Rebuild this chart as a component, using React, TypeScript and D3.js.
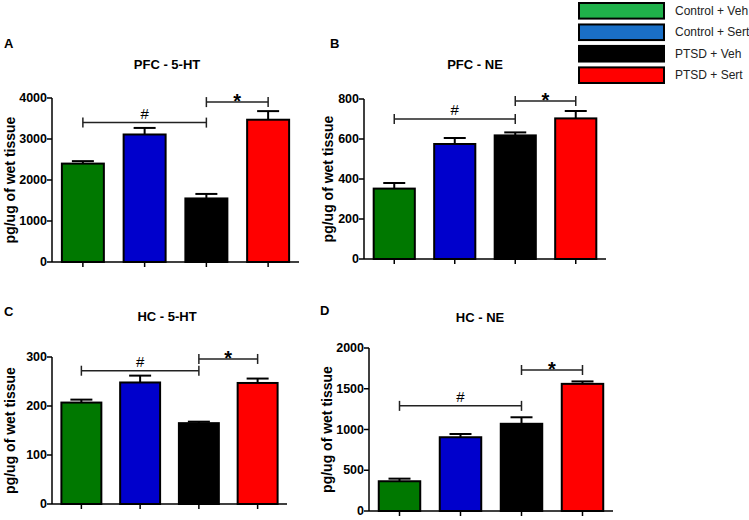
import React from "react";
import * as d3 from "d3";

const groups = ["Control + Veh", "Control + Sert", "PTSD + Veh", "PTSD + Sert"];
const barColors = ["#007800", "#0000cc", "#000000", "#ff0000"];
const legendColors = ["#1fb04a", "#1a6fc6", "#000000", "#ff0000"];

const pfc5htMeans = [2400, 3110, 1550, 3470];
const pfc5htErr = [60, 160, 110, 210];
const pfc5htTicks = [0, 1000, 2000, 3000, 4000];

const pfcNeMeans = [352, 575, 618, 703];
const pfcNeErr = [28, 30, 15, 37];
const pfcNeTicks = [0, 200, 400, 600, 800];

const hc5htMeans = [207, 248, 165, 247];
const hc5htErr = [6, 14, 3, 9];
const hc5htTicks = [0, 100, 200, 300];

const hcNeMeans = [365, 905, 1070, 1560];
const hcNeErr = [32, 40, 80, 30];
const hcNeTicks = [0, 500, 1000, 1500, 2000];

// significance brackets: [from, to, level, symbol]
const pfc5htSig: [number, number, number, string][] = [[0, 2, 3400, "#"], [2, 3, 3900, "*"]];
const pfcNeSig: [number, number, number, string][] = [[0, 2, 700, "#"], [2, 3, 790, "*"]];
const hc5htSig: [number, number, number, string][] = [[0, 2, 272, "#"], [2, 3, 296, "*"]];
const hcNeSig: [number, number, number, string][] = [[0, 2, 1290, "#"], [2, 3, 1730, "*"]];

const yLabel = "pg/ug of wet tissue";
const FONT = "'Liberation Sans', Arial, Helvetica, sans-serif";

type PanelProps = {
  letter: string;
  title: string;
  means: number[];
  errs: number[];
  ticks: number[];
  sig: [number, number, number, string][];
  x0: number;
  x1: number;
  yTop: number;
  yBottom: number;
  letterX: number;
  letterY: number;
  titleX: number;
  titleY: number;
  labelX: number;
};

function Panel(p: PanelProps) {
  const x = d3.scaleBand<string>().domain(groups).range([p.x0, p.x1]).paddingInner(0.32).paddingOuter(0.16);
  const y = d3.scaleLinear().domain([0, p.ticks[p.ticks.length - 1]]).range([p.yBottom, p.yTop]);
  const bw = x.bandwidth();
  const cx = (i: number) => (x(groups[i]) as number) + bw / 2;
  return (
    <g>
      <text x={p.letterX} y={p.letterY} fontSize={13} fontWeight="bold" fontFamily={FONT}>{p.letter}</text>
      <text x={p.titleX} y={p.titleY} fontSize={13} fontWeight="bold" fontFamily={FONT} textAnchor="middle">{p.title}</text>
      <text
        transform={`translate(${p.labelX},${(p.yTop + p.yBottom) / 2}) rotate(-90)`}
        fontSize={14}
        fontWeight="bold"
        fontFamily={FONT}
        textAnchor="middle"
        dominantBaseline="central"
      >
        {yLabel}
      </text>
      {/* bars */}
      {p.means.map((m, i) => {
        const xx = x(groups[i]) as number;
        const top = y(m);
        const etop = y(m + p.errs[i]);
        return (
          <g key={i}>
            <line x1={cx(i)} x2={cx(i)} y1={top} y2={etop} stroke="#000" strokeWidth={2} />
            <line x1={cx(i) - 11} x2={cx(i) + 11} y1={etop} y2={etop} stroke="#000" strokeWidth={2} />
            <rect x={xx} y={top} width={bw} height={p.yBottom - top} fill={barColors[i]} stroke="#000" strokeWidth={2} />
          </g>
        );
      })}
      {/* y axis */}
      <line x1={p.x0} x2={p.x0} y1={p.yTop} y2={p.yBottom} stroke="#000" strokeWidth={1.5} />
      {p.ticks.map((t) => (
        <g key={t}>
          <line x1={p.x0 - 5} x2={p.x0} y1={y(t)} y2={y(t)} stroke="#000" strokeWidth={1.5} />
          <text x={p.x0 - 5} y={y(t)} fontSize={12.5} fontWeight="bold" fontFamily={FONT} textAnchor="end" dominantBaseline="central">
            {t}
          </text>
        </g>
      ))}
      {/* x axis */}
      <line x1={p.x0} x2={p.x1} y1={p.yBottom} y2={p.yBottom} stroke="#000" strokeWidth={1.5} />
      {groups.map((g, i) => (
        <line key={g} x1={cx(i)} x2={cx(i)} y1={p.yBottom} y2={p.yBottom + 5} stroke="#000" strokeWidth={1.5} />
      ))}
      {/* significance */}
      {p.sig.map(([a, b, lvl, sym], k) => {
        const yy = y(lvl);
        return (
          <g key={k}>
            <line x1={cx(a)} x2={cx(b)} y1={yy} y2={yy} stroke="#222" strokeWidth={1.5} />
            <line x1={cx(a)} x2={cx(a)} y1={yy - 5} y2={yy + 5} stroke="#222" strokeWidth={1.5} />
            <line x1={cx(b)} x2={cx(b)} y1={yy - 5} y2={yy + 5} stroke="#222" strokeWidth={1.5} />
            <text
              x={(cx(a) + cx(b)) / 2}
              y={sym === "*" ? yy + 6 : yy - 4}
              fontSize={sym === "*" ? 20 : 15}
              fontWeight={sym === "*" ? "bold" : "normal"}
              fontFamily={FONT}
              textAnchor="middle"
            >
              {sym}
            </text>
          </g>
        );
      })}
    </g>
  );
}

export default function App() {
  const legendY = d3.scaleBand<string>().domain(groups).range([2, 84]).paddingInner(0.18);
  return (
    <svg width={749} height={520} style={{ position: "absolute", left: 0, top: 0, background: "#fff" }}>
      <rect width={749} height={520} fill="#fff" />
      <Panel letter="A" title="PFC - 5-HT" means={pfc5htMeans} errs={pfc5htErr} ticks={pfc5htTicks} sig={pfc5htSig}
        x0={52} x1={299} yTop={98} yBottom={262} letterX={4} letterY={48} titleX={167} titleY={69} labelX={10} />
      <Panel letter="B" title="PFC - NE" means={pfcNeMeans} errs={pfcNeErr} ticks={pfcNeTicks} sig={pfcNeSig}
        x0={364} x1={606} yTop={99} yBottom={259} letterX={330} letterY={48} titleX={475} titleY={69} labelX={328} />
      <Panel letter="C" title="HC - 5-HT" means={hc5htMeans} errs={hc5htErr} ticks={hc5htTicks} sig={hc5htSig}
        x0={52} x1={287} yTop={357} yBottom={504} letterX={4} letterY={316} titleX={167} titleY={321} labelX={10} />
      <Panel letter="D" title="HC - NE" means={hcNeMeans} errs={hcNeErr} ticks={hcNeTicks} sig={hcNeSig}
        x0={369} x1={613} yTop={348} yBottom={511} letterX={320} letterY={315} titleX={480} titleY={322} labelX={327} />
      {groups.map((g, i) => {
        const yy = legendY(g) as number;
        const h = legendY.bandwidth();
        return (
          <g key={g}>
            <rect x={579} y={yy + 1} width={85} height={h - 2} fill={legendColors[i]} stroke="#000" strokeWidth={2} />
            <text x={675} y={yy + h / 2} fontSize={12} fontFamily={FONT} dominantBaseline="central" fill="#222">{g}</text>
          </g>
        );
      })}
    </svg>
  );
}
